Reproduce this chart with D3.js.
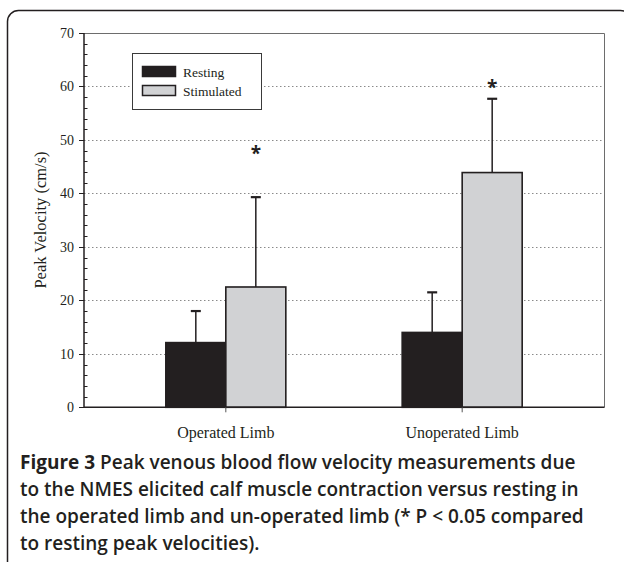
<!DOCTYPE html>
<html>
<head>
<meta charset="utf-8">
<script src="https://cdn.jsdelivr.net/npm/d3@7"></script>
<style>
  html, body { margin: 0; padding: 0; background: #fff; }
  svg { display: block; }
</style>
</head>
<body>
<div id="chart"></div>
<script>
// data
const categories = ['Operated Limb', 'Unoperated Limb'];
const seriesNames = ['Resting', 'Stimulated'];
const restingMean = [12.1, 14.0];
const restingSD = [5.9, 7.5];
const stimulatedMean = [22.5, 43.9];
const stimulatedSD = [16.8, 13.8];
const starValues = [48.2, 60.4]; // where the "*" marks sit
const yTicks = [0, 10, 20, 30, 40, 50, 60, 70];
const captionLines = [
    ['Figure 3', ' Peak venous blood flow velocity measurements due'],
    ['', 'to the NMES elicited calf muscle contraction versus resting in'],
    ['', 'the operated limb and un-operated limb (* P < 0.05 compared'],
    ['', 'to resting peak velocities).']
];

const width = 624, height = 562;
const margin = { left: 84, right: 20, top: 33, bottom: 155 };
const serif = '"Liberation Serif", "Times New Roman", serif';
const sans = '"Open Sans", "Noto Sans", sans-serif';

const svg = d3.select('#chart').append('svg')
    .attr('width', width)
    .attr('height', height);

// rounded figure frame
svg.append('rect')
    .attr('x', 7.5).attr('y', 10.5)
    .attr('width', 624).attr('height', 620)
    .attr('rx', 11)
    .attr('fill', 'none')
    .attr('stroke', '#231f20')
    .attr('stroke-width', 1.5);

const x = d3.scalePoint()
    .domain(categories)
    .range([margin.left, width - margin.right])
    .padding(0.6);

const y = d3.scaleLinear()
    .domain([0, 70])
    .range([height - margin.bottom + 0.3, margin.top]);

const barW = 60;
const sub = d3.scaleBand().domain(seriesNames).range([-barW, barW]);

const g = svg.append('g');

// dotted grid
g.append('g').selectAll('line')
    .data(yTicks.filter((d) => d > 0 && d < 70))
    .enter().append('line')
    .attr('x1', margin.left).attr('x2', width - margin.right)
    .attr('y1', (d) => Math.round(y(d)) + 0.5)
    .attr('y2', (d) => Math.round(y(d)) + 0.5)
    .attr('stroke', '#8a8a8a')
    .attr('stroke-width', 1)
    .attr('stroke-dasharray', '1.5,2.5');

// top and right frame of the plot
g.append('path')
    .attr('d', `M${margin.left},${margin.top + 0.5}H${width - margin.right + 0.5}V${y(0)}`)
    .attr('fill', 'none')
    .attr('stroke', '#6d6d6d')
    .attr('stroke-width', 1);

// legend
const legend = g.append('g').attr('transform', 'translate(132,53)');
legend.append('rect')
    .attr('x', 0.5).attr('y', 0.5)
    .attr('width', 129).attr('height', 56)
    .attr('fill', '#fff')
    .attr('stroke', '#3a3a3a')
    .attr('stroke-width', 1);
const legendFill = ['#231f20', '#d1d2d4'];
seriesNames.forEach((name, i) => {
    legend.append('rect')
        .attr('x', 10.5).attr('y', 13.5 + i * 19)
        .attr('width', 33).attr('height', 10)
        .attr('fill', legendFill[i])
        .attr('stroke', '#231f20')
        .attr('stroke-width', 1.5);
    legend.append('text')
        .attr('x', 51).attr('y', 23.5 + i * 19)
        .attr('font-family', serif)
        .attr('font-size', '13.5px')
        .attr('fill', '#231f20')
        .text(name);
});

// bars
const rows = categories.map((c, i) => ({
    cat: c,
    vals: [
        { s: 'Resting', mean: restingMean[i], sd: restingSD[i] },
        { s: 'Stimulated', mean: stimulatedMean[i], sd: stimulatedSD[i] }
    ]
}));

const groups = g.append('g').selectAll('g')
    .data(rows)
    .enter().append('g')
    .attr('transform', (d) => `translate(${x(d.cat)},0)`);

// error bars (upper only), drawn before bars
groups.selectAll('.err')
    .data((d) => d.vals)
    .enter().append('g')
    .each(function (d) {
        const cx = sub(d.s) + sub.bandwidth() / 2;
        const sel = d3.select(this);
        sel.append('line')
            .attr('x1', cx).attr('x2', cx)
            .attr('y1', y(d.mean)).attr('y2', y(d.mean + d.sd))
            .attr('stroke', '#231f20')
            .attr('stroke-width', 1.5);
        sel.append('line')
            .attr('x1', cx - 5).attr('x2', cx + 5)
            .attr('y1', y(d.mean + d.sd)).attr('y2', y(d.mean + d.sd))
            .attr('stroke', '#231f20')
            .attr('stroke-width', 2.2);
    });

groups.selectAll('rect')
    .data((d) => d.vals)
    .enter().append('rect')
    .attr('x', (d) => sub(d.s))
    .attr('width', sub.bandwidth())
    .attr('y', (d) => y(d.mean))
    .attr('height', (d) => y(0) - y(d.mean))
    .attr('fill', (d) => (d.s === 'Resting' ? '#231f20' : '#d1d2d4'))
    .attr('stroke', '#231f20')
    .attr('stroke-width', 1.6);

// significance stars over stimulated bars
groups.append('text')
    .attr('x', sub('Stimulated') + sub.bandwidth() / 2)
    .attr('y', (d, i) => y(starValues[i]) + 10)
    .attr('text-anchor', 'middle')
    .attr('font-family', sans)
    .attr('font-weight', 'bold')
    .attr('font-size', '19px')
    .attr('fill', '#231f20')
    .text('*');

// y axis
const yAxis = g.append('g').attr('transform', `translate(${margin.left},0)`);
yAxis.append('line')
    .attr('x1', 0).attr('x2', 0)
    .attr('y1', margin.top).attr('y2', y(0))
    .attr('stroke', '#231f20').attr('stroke-width', 1.5);
yAxis.selectAll('.minor')
    .data(d3.range(0, 71, 2).filter((d) => d % 10 !== 0))
    .enter().append('line')
    .attr('x1', 0).attr('x2', 3.5)
    .attr('y1', (d) => Math.round(y(d)) + 0.5)
    .attr('y2', (d) => Math.round(y(d)) + 0.5)
    .attr('stroke', '#231f20');
yAxis.selectAll('.major')
    .data(yTicks)
    .enter().append('line')
    .attr('x1', -5).attr('x2', 0)
    .attr('y1', (d) => Math.round(y(d)) + 0.5)
    .attr('y2', (d) => Math.round(y(d)) + 0.5)
    .attr('stroke', '#231f20');
yAxis.selectAll('text')
    .data(yTicks)
    .enter().append('text')
    .attr('x', -10)
    .attr('y', (d) => y(d) + 5)
    .attr('text-anchor', 'end')
    .attr('font-family', serif)
    .attr('font-size', '14px')
    .attr('fill', '#231f20')
    .text((d) => d);

// x axis
const xAxis = g.append('g');
xAxis.append('line')
    .attr('x1', margin.left).attr('x2', width - margin.right + 0.5)
    .attr('y1', y(0)).attr('y2', y(0))
    .attr('stroke', '#231f20').attr('stroke-width', 1.5);
xAxis.selectAll('.tick')
    .data(categories)
    .enter().append('line')
    .attr('x1', (d) => x(d)).attr('x2', (d) => x(d))
    .attr('y1', y(0)).attr('y2', y(0) + 5)
    .attr('stroke', '#555');
xAxis.selectAll('text')
    .data(categories)
    .enter().append('text')
    .attr('x', (d) => x(d))
    .attr('y', y(0) + 31)
    .attr('text-anchor', 'middle')
    .attr('font-family', serif)
    .attr('font-size', '16px')
    .attr('fill', '#231f20')
    .text((d) => d);

// y axis title
svg.append('text')
    .attr('transform', 'translate(46,220) rotate(-90)')
    .attr('text-anchor', 'middle')
    .attr('font-family', serif)
    .attr('font-size', '16.5px')
    .attr('fill', '#231f20')
    .text('Peak Velocity (cm/s)');

// caption
const cap = svg.append('text')
    .attr('font-family', sans)
    .attr('font-size', '19px')
    .attr('fill', '#231f20');
captionLines.forEach((ln, i) => {
    const t = cap.append('tspan').attr('x', 20).attr('y', 469 + i * 27);
    if (ln[0]) t.append('tspan').attr('font-weight', 'bold').text(ln[0]);
    t.append('tspan').attr('font-weight', 600).text(ln[1]);
});
</script>
</body>
</html>
